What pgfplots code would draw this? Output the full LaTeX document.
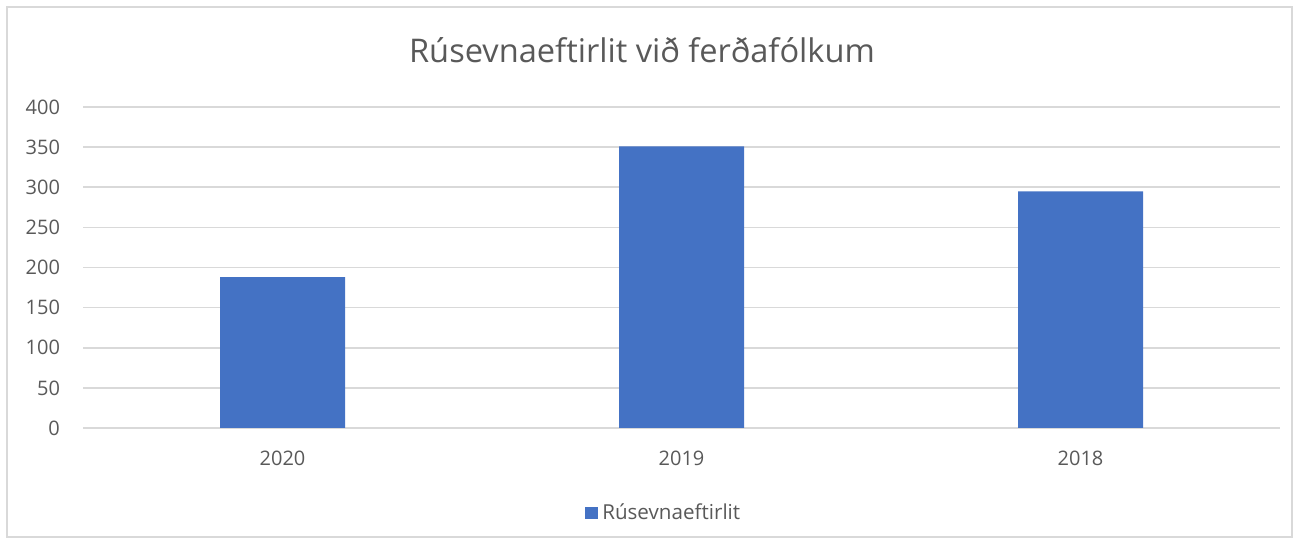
\documentclass[border=0pt]{standalone}
\usepackage{pgfplots}
\pgfplotsset{compat=1.18}
\usepackage{fontspec}
\setmainfont{Open Sans}
\definecolor{barblue}{HTML}{4472C4}
\definecolor{txtgray}{HTML}{595959}
\definecolor{gridgray}{HTML}{D9D9D9}
\begin{document}
\begin{tikzpicture}
\path[use as bounding box] (-41.5pt,-58pt) rectangle (608pt,214pt);
\draw[gridgray, line width=0.6pt] (-38pt,-54.5pt) rectangle (604.5pt,210.5pt);
\begin{axis}[
  at={(0pt,0pt)}, anchor=south west,
  scale only axis, width=598.5pt, height=160.5pt,
  xmin=-0.5, xmax=2.5, ymin=0, ymax=400,
  xtick={0,1,2}, xticklabels={2020,2019,2018},
  ytick={0,50,...,400},
  ymajorgrids, grid style={gridgray, line width=0.8pt},
  axis x line*=bottom, axis y line*=left,
  x axis line style={gridgray, line width=0.8pt, -},
  y axis line style={draw=none},
  major tick length=0pt,
  tick label style={font=\fontsize{10}{12}\selectfont, text=txtgray},
  /pgf/number format/assume math mode=true,
  yticklabel style={xshift=-8pt},
  xticklabel style={anchor=base, yshift=-19pt},
  ybar, bar width=62.5pt,
  legend style={at={(0.486,-0.265)}, anchor=center, draw=none, font=\fontsize{10.3}{12}\selectfont, text=txtgray},
  legend image code/.code={\fill[#1] (0pt,-3.2pt) rectangle (6.5pt,3.2pt);},
  clip=false,
]
\addplot[fill=barblue, draw=none] coordinates {(0,188) (1,351) (2,295)};
\addlegendentry{Rúsevnaeftirlit}
\end{axis}
\node[text=txtgray, font=\fontsize{16.3}{19}\selectfont] at (279.5pt,189pt) {Rúsevnaeftirlit við ferðafólkum};
\end{tikzpicture}
\end{document}
